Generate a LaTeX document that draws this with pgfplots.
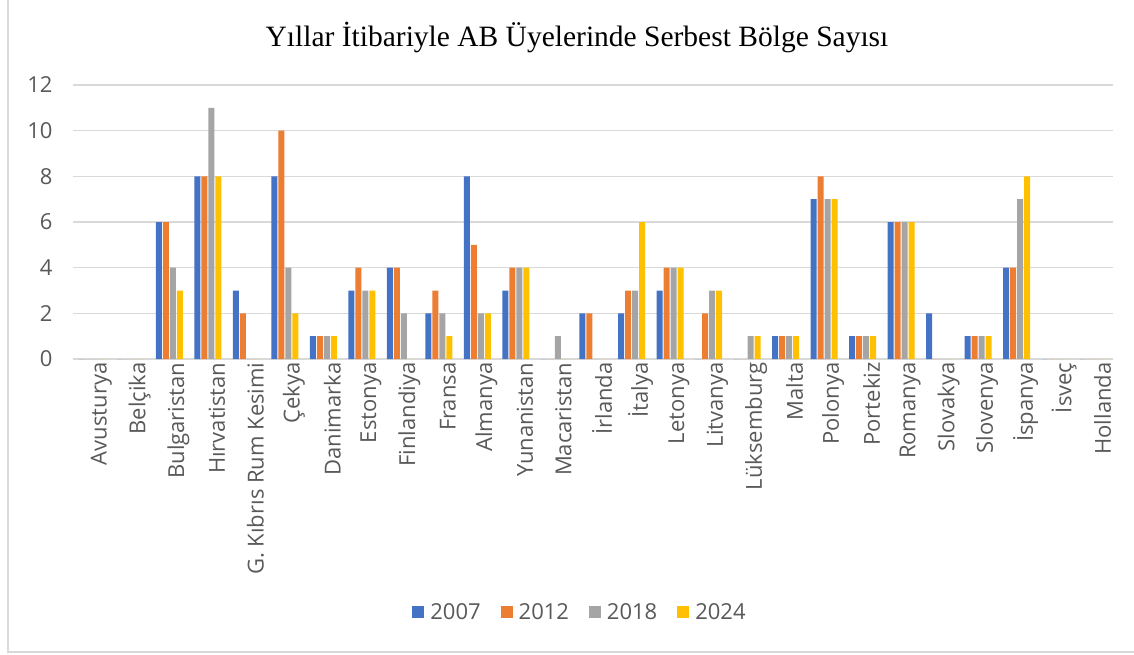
\documentclass[border=0pt]{standalone}
\usepackage{pgfplots}
\pgfplotsset{compat=1.18}
\usepackage{fontspec}
\setmainfont{Open Sans}
\newfontfamily\titlefont{Liberation Serif}
\definecolor{c07}{HTML}{4472C4}
\definecolor{c12}{HTML}{ED7D31}
\definecolor{c18}{HTML}{A5A5A5}
\definecolor{c24}{HTML}{FFC000}
\definecolor{txt}{HTML}{595959}
\definecolor{grd}{HTML}{D9D9D9}
\begin{document}
\begin{tikzpicture}
\useasboundingbox (-73pt,-295pt) rectangle (1061pt,359pt);
\draw[grd, line width=1.2pt] (-65pt,359pt) -- (-65pt,-293pt) -- (1061pt,-293pt);
\begin{axis}[
  scale only axis, width=1040pt, height=274pt,
  at={(0pt,0pt)}, anchor=south west,
  ybar=1pt, bar width=6pt,
  xmin=-0.5, xmax=26.5, ymin=0, ymax=12,
  ytick={0,2,...,12},
  xtick={0,...,26},
  xticklabels={Avusturya,Belçika,Bulgaristan,Hırvatistan,G. Kıbrıs Rum Kesimi,Çekya,Danimarka,Estonya,Finlandiya,Fransa,Almanya,Yunanistan,Macaristan,İrlanda,İtalya,Letonya,Litvanya,Lüksemburg,Malta,Polonya,Portekiz,Romanya,Slovakya,Slovenya,İspanya,İsveç,Hollanda},
  axis line style={draw=none},
  major tick length=0pt,
  ymajorgrids, grid style={grd, line width=1.2pt},
  /pgf/number format/assume math mode=true,
  tick label style={font=\fontsize{22}{26}\selectfont, text=txt},
  yticklabel style={xshift=-17pt},
  xticklabel style={rotate=90, anchor=east, yshift=-9pt},
  title={\titlefont\fontsize{29.5}{34}\selectfont Yıllar İtibariyle AB Üyelerinde Serbest Bölge Sayısı},
  title style={at={(0.4846,1.15)}, anchor=center, text=black},
  legend columns=4,
  legend style={draw=none, at={(0.4875,-0.923)}, anchor=center,
    font=\fontsize{22}{26}\selectfont, text=txt,
    /tikz/every even column/.append style={column sep=18pt}},
  legend image code/.code={\fill[#1] (0pt,-6pt) rectangle (12pt,6pt); \path (16pt,0pt);},
  every axis plot/.append style={draw=none},
]
\addplot[fill=c07] coordinates {(0,0)(1,0)(2,6)(3,8)(4,3)(5,8)(6,1)(7,3)(8,4)(9,2)(10,8)(11,3)(12,0)(13,2)(14,2)(15,3)(16,0)(17,0)(18,1)(19,7)(20,1)(21,6)(22,2)(23,1)(24,4)(25,0)(26,0)};
\addplot[fill=c12] coordinates {(0,0)(1,0)(2,6)(3,8)(4,2)(5,10)(6,1)(7,4)(8,4)(9,3)(10,5)(11,4)(12,0)(13,2)(14,3)(15,4)(16,2)(17,0)(18,1)(19,8)(20,1)(21,6)(22,0)(23,1)(24,4)(25,0)(26,0)};
\addplot[fill=c18] coordinates {(0,0)(1,0)(2,4)(3,11)(4,0)(5,4)(6,1)(7,3)(8,2)(9,2)(10,2)(11,4)(12,1)(13,0)(14,3)(15,4)(16,3)(17,1)(18,1)(19,7)(20,1)(21,6)(22,0)(23,1)(24,7)(25,0)(26,0)};
\addplot[fill=c24] coordinates {(0,0)(1,0)(2,3)(3,8)(4,0)(5,2)(6,1)(7,3)(8,0)(9,1)(10,2)(11,4)(12,0)(13,0)(14,6)(15,4)(16,3)(17,1)(18,1)(19,7)(20,1)(21,6)(22,0)(23,1)(24,8)(25,0)(26,0)};
\legend{2007,2012,2018,2024}
\end{axis}
\end{tikzpicture}
\end{document}
